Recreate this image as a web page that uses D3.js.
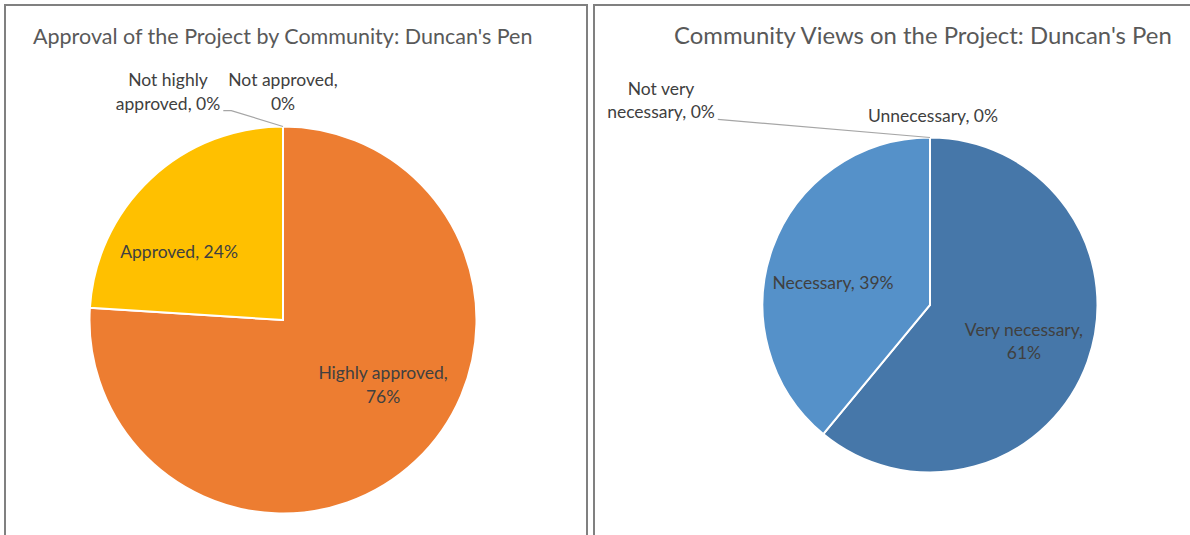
<!DOCTYPE html>
<html>
<head>
<meta charset="utf-8">
<script src="https://cdn.jsdelivr.net/npm/d3@7"></script>
<style>
  body { margin: 0; background: #fff; }
  svg { display: block; font-family: Lato, "Open Sans", sans-serif; }
</style>
</head>
<body>
<svg id="chart" width="1190" height="535"></svg>
<script>
//<![CDATA[
// chart data
const approvalTitle = "Approval of the Project by Community: Duncan's Pen";
const approvalCategories = ["Highly approved", "Approved", "Not highly approved", "Not approved"];
const approvalValues = [76, 24, 0, 0];
const approvalColors = ["#ed7d31", "#ffc000", "#a5a5a5", "#5b9bd5"];

const necessityTitle = "Community Views on the Project: Duncan's Pen";
const necessityCategories = ["Very necessary", "Necessary", "Not very necessary", "Unnecessary"];
const necessityValues = [61, 39, 0, 0];
const necessityColors = ["#4677a9", "#5591c9", "#9dc3e6", "#2e5b8a"];

function buildPie(svg, opts) {
  const g = svg.append("g");

  // panel frame
  g.append("rect")
    .attr("x", opts.frame[0]).attr("y", opts.frame[1])
    .attr("width", opts.frame[2]).attr("height", opts.frame[3])
    .attr("fill", "#fff").attr("stroke", "#808080").attr("stroke-width", 2);

  g.append("text")
    .attr("x", opts.titleX).attr("y", 44)
    .attr("fill", "#595959")
    .style("font-size", opts.titleSize + "px")
    .text(opts.title);

  const data = opts.categories.map((c, i) => ({ name: c, value: opts.values[i], color: opts.colors[i] }));
  const pie = d3.pie().sort(null).value(d => d.value);
  const arc = d3.arc().innerRadius(0).outerRadius(opts.r);
  const arcs = pie(data);

  const pg = g.append("g").attr("transform", `translate(${opts.cx},${opts.cy})`);
  pg.selectAll("path")
    .data(arcs.filter(a => a.data.value > 0))
    .enter().append("path")
    .attr("d", arc)
    .attr("fill", a => a.data.color)
    .attr("stroke", "#fff")
    .attr("stroke-width", 2);

  // data labels (dx, dy = centre of first line, in radii from pie centre)
  opts.labels.forEach((lab, i) => {
    const a = arcs[i];
    const lines = lab.lines(a.data.name, a.data.value);
    const x = opts.cx + lab.dx * opts.r;
    const y = opts.cy + lab.dy * opts.r;
    const t = g.append("text")
      .attr("text-anchor", "middle")
      .attr("fill", "#404040")
      .style("font-size", "17.5px");
    lines.forEach((ln, k) => {
      t.append("tspan").attr("x", x).attr("y", y + k * 23.5 + 6).text(ln);
    });
    if (lab.leader !== undefined) {
      const bb = t.node().getBBox();
      const topPt = [opts.cx, opts.cy - opts.r];
      const ly = bb.y + bb.height - 3;
      const lx = bb.x + bb.width + 3;
      g.append("path")
        .attr("d", d3.line()([[lx, ly], [lx + lab.leader, ly], topPt]))
        .attr("fill", "none")
        .attr("stroke", "#a6a6a6")
        .attr("stroke-width", 1.2);
    }
  });
}

const svg = d3.select("#chart");

buildPie(svg, {
  frame: [5, 5, 582, 545],
  title: approvalTitle, titleX: 33, titleSize: 21.5,
  categories: approvalCategories, values: approvalValues, colors: approvalColors,
  cx: 283, cy: 320, r: 193.5,
  labels: [
    { dx: 0.517, dy: 0.274, lines: (n, v) => [n + ",", v + "%"] },
    { dx: -0.537, dy: -0.351, lines: (n, v) => [n + ", " + v + "%"] },
    { dx: -0.594, dy: -1.24, leader: 8, lines: (n, v) => ["Not highly", "approved, " + v + "%"] },
    { dx: 0.0, dy: -1.24, lines: (n, v) => [n + ",", v + "%"] }
  ]
});

buildPie(svg, {
  frame: [594, 5, 600, 545],
  title: necessityTitle, titleX: 674, titleSize: 23.9,
  categories: necessityCategories, values: necessityValues, colors: necessityColors,
  cx: 930, cy: 305, r: 167.5,
  labels: [
    { dx: 0.561, dy: 0.149, lines: (n, v) => [n + ",", v + "%"] },
    { dx: -0.579, dy: -0.131, lines: (n, v) => [n + ", " + v + "%"] },
    { dx: -1.606, dy: -1.29, leader: 0, lines: (n, v) => ["Not very", "necessary, " + v + "%"] },
    { dx: 0.018, dy: -1.128, lines: (n, v) => [n + ", " + v + "%"] }
  ]
});
//]]>
</script>
</body>
</html>
